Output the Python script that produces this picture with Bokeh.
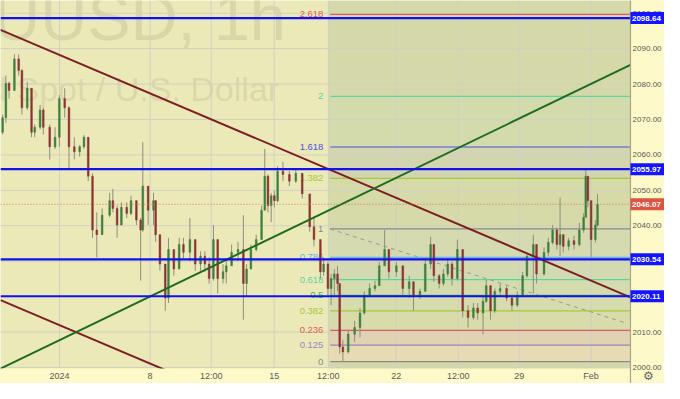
from bokeh.plotting import figure
from bokeh.models import ColumnDataSource
from bokeh.embed import file_html
from bokeh.resources import INLINE
from bokeh.core.properties import value

# ---------------- data ----------------
bar_t = [2, 5, 8, 13, 17, 20, 25, 29, 32, 37, 40, 46, 51, 55, 60, 64, 69, 74, 78, 82,
         86, 90, 95, 102, 105, 109, 113, 118, 122, 127, 131, 133, 138, 143, 145, 149, 154, 157, 162, 167,
         171, 177, 182, 187, 191, 195, 199, 203, 208, 211, 216, 222, 227, 230, 234, 239, 244, 247, 250, 253,
         256, 259, 264, 270, 276, 282, 289, 293, 299, 302, 306, 309, 312, 315, 317, 320, 325, 331, 336, 340,
         345, 350, 354, 359, 363, 370, 376, 382, 386, 392, 397, 402, 405, 410, 414, 418, 422, 427, 432, 437,
         442, 446, 451, 454, 458, 462, 467, 473, 478, 483, 488, 492, 498, 501, 508, 512, 516, 520, 523, 526,
         531, 536, 541, 545, 547, 549, 552, 556, 558]
open_ = [2066.4, 2070.5, 2080.2, 2078.2, 2087.1, 2083.8, 2073.3, 2078.8, 2066.4, 2067.8, 2072.7, 2067.8, 2062.3, 2065.0, 2075.9, 2073.3, 2062.3, 2060.9, 2062.3, 2065.0,
         2054.0, 2038.8, 2037.5, 2043.0, 2047.1, 2044.9, 2040.2, 2045.2, 2043.5, 2047.1, 2041.6, 2038.8, 2051.2, 2044.4, 2047.1, 2037.5, 2029.2, 2019.6, 2033.3, 2027.8,
         2034.7, 2032.5, 2036.1, 2029.2, 2031.4, 2029.2, 2025.1, 2036.1, 2025.1, 2027.0, 2028.7, 2032.5, 2033.3, 2023.7, 2027.8, 2033.3, 2036.1, 2044.4, 2054.0, 2045.7,
         2048.5, 2047.1, 2055.4, 2054.5, 2052.6, 2054.8, 2049.0, 2039.7, 2036.1, 2027.0, 2029.2, 2022.3, 2025.1, 2026.4, 2023.7, 2005.8, 2004.4, 2009.4, 2011.3, 2015.4,
         2020.4, 2022.3, 2023.1, 2028.7, 2033.3, 2027.0, 2028.7, 2022.3, 2024.2, 2020.4, 2021.5, 2029.2, 2034.7, 2025.9, 2023.7, 2026.4, 2029.2, 2025.1, 2033.3, 2016.0,
         2014.1, 2016.8, 2015.4, 2018.7, 2023.1, 2016.0, 2021.5, 2022.3, 2019.6, 2017.6, 2020.4, 2025.9, 2031.4, 2034.7, 2026.4, 2032.5, 2035.3, 2038.8, 2034.7, 2037.5,
         2034.2, 2035.8, 2034.7, 2038.8, 2042.4, 2054.0, 2047.1, 2036.1, 2040.2]
high = [2071.4, 2082.4, 2080.7, 2088.4, 2088.4, 2084.3, 2080.7, 2078.8, 2068.6, 2074.1, 2073.3, 2068.6, 2067.8, 2076.9, 2078.8, 2073.8, 2065.0, 2062.8, 2065.6, 2065.0,
        2054.8, 2043.8, 2044.9, 2049.3, 2050.4, 2045.7, 2046.6, 2046.6, 2048.5, 2047.1, 2042.2, 2063.6, 2051.2, 2049.3, 2047.1, 2037.5, 2029.2, 2036.6, 2033.3, 2036.6,
        2036.6, 2042.2, 2036.1, 2032.8, 2032.8, 2031.1, 2040.2, 2036.1, 2029.2, 2030.6, 2034.7, 2035.5, 2043.0, 2029.2, 2034.7, 2037.5, 2045.7, 2061.7, 2054.5, 2049.3,
        2049.9, 2056.8, 2058.1, 2055.4, 2055.9, 2054.8, 2049.0, 2042.2, 2036.1, 2031.1, 2029.8, 2026.4, 2027.8, 2028.7, 2023.7, 2007.7, 2010.5, 2013.2, 2016.8, 2021.5,
        2023.7, 2024.5, 2029.8, 2038.8, 2033.3, 2029.8, 2028.7, 2025.9, 2024.2, 2022.3, 2030.6, 2036.9, 2034.7, 2026.4, 2027.8, 2030.6, 2029.8, 2036.1, 2033.3, 2017.6,
        2018.2, 2018.2, 2020.4, 2024.8, 2023.1, 2022.3, 2023.7, 2022.9, 2020.1, 2021.5, 2027.0, 2032.5, 2037.5, 2034.7, 2033.9, 2036.6, 2040.2, 2039.4, 2047.9, 2037.5,
        2036.6, 2037.2, 2040.8, 2043.5, 2055.9, 2054.0, 2047.1, 2041.6, 2049.0]
low = [2065.8, 2069.1, 2075.9, 2078.2, 2082.4, 2071.4, 2072.7, 2065.0, 2065.0, 2067.2, 2065.8, 2058.7, 2061.7, 2062.3, 2070.5, 2055.9, 2058.7, 2059.5, 2061.7, 2052.6,
       2036.6, 2031.1, 2037.5, 2042.4, 2043.8, 2036.6, 2040.2, 2042.2, 2043.0, 2040.2, 2024.5, 2038.3, 2040.2, 2040.2, 2035.5, 2027.3, 2016.0, 2018.2, 2025.9, 2027.8,
       2030.6, 2030.0, 2027.3, 2027.3, 2027.0, 2023.7, 2024.5, 2020.9, 2023.7, 2023.7, 2028.7, 2030.0, 2013.5, 2020.1, 2027.8, 2032.8, 2036.1, 2044.4, 2043.8, 2041.0,
       2045.2, 2046.6, 2052.6, 2051.2, 2052.1, 2047.7, 2038.3, 2034.2, 2025.1, 2025.9, 2020.4, 2017.6, 2020.4, 2021.5, 2003.9, 2001.7, 2003.9, 2007.2, 2008.5, 2014.9,
       2020.4, 2021.5, 2023.1, 2028.7, 2025.1, 2025.6, 2020.4, 2019.6, 2016.0, 2019.3, 2021.5, 2027.8, 2024.2, 2022.3, 2023.1, 2025.6, 2023.1, 2024.5, 2014.1, 2011.3,
       2013.5, 2013.5, 2009.4, 2018.2, 2013.5, 2015.4, 2020.1, 2018.7, 2016.0, 2017.1, 2020.1, 2025.3, 2020.9, 2023.7, 2025.9, 2031.4, 2034.7, 2033.3, 2031.4, 2032.5,
       2033.1, 2033.3, 2034.2, 2038.0, 2042.4, 2045.2, 2031.1, 2035.3, 2039.7]
close = [2070.5, 2080.2, 2078.2, 2087.1, 2083.8, 2073.3, 2078.8, 2066.4, 2067.8, 2072.7, 2067.8, 2062.3, 2065.0, 2075.9, 2073.3, 2062.3, 2060.9, 2062.3, 2065.0, 2054.0,
         2038.8, 2037.5, 2043.0, 2047.1, 2044.9, 2040.2, 2045.2, 2043.5, 2047.1, 2041.6, 2038.8, 2051.2, 2044.4, 2047.1, 2037.5, 2029.2, 2019.6, 2033.3, 2027.8, 2034.7,
         2032.5, 2036.1, 2029.2, 2031.4, 2029.2, 2025.1, 2036.1, 2025.1, 2027.0, 2028.7, 2032.5, 2033.3, 2023.7, 2027.8, 2033.3, 2036.1, 2044.4, 2054.0, 2045.7, 2048.5,
         2047.1, 2055.4, 2054.5, 2052.6, 2054.8, 2049.0, 2039.7, 2036.1, 2027.0, 2029.2, 2022.3, 2025.1, 2026.4, 2023.7, 2005.8, 2004.4, 2009.4, 2011.3, 2015.4, 2020.4,
         2022.3, 2023.1, 2028.7, 2033.3, 2027.0, 2028.7, 2022.3, 2024.2, 2020.4, 2021.5, 2029.2, 2034.7, 2025.9, 2023.7, 2026.4, 2029.2, 2025.1, 2033.3, 2016.0, 2014.1,
         2016.8, 2015.4, 2018.7, 2023.1, 2016.0, 2021.5, 2022.3, 2019.6, 2017.6, 2020.4, 2025.9, 2031.4, 2034.7, 2026.4, 2032.5, 2035.3, 2038.8, 2034.7, 2037.5, 2034.2,
         2035.8, 2034.7, 2038.8, 2042.4, 2054.0, 2047.1, 2036.1, 2040.2, 2046.07]

x_ticks = [55.2, 139.8, 196.9, 255.8, 306.4, 369.8, 427.8, 484.8, 552.0]
x_tick_labels = ["2024", "8", "12:00", "15", "12:00", "22", "12:00", "29", "Feb"]
price_ticks = [2000, 2010, 2020, 2030, 2040, 2050, 2060, 2070, 2080, 2090, 2100]

key_levels = [2098.64, 2055.97, 2030.54, 2020.11]
last_price = 2046.07

fib_ratios = [0, 0.125, 0.236, 0.382, 0.5, 0.618, 0.786, 1, 1.382, 1.618, 2, 2.618]
fib_labels = ["0", "0.125", "0.236", "0.382", "0.5", "0.618", "0.786", "1", "1.382", "1.618", "2", "2.618"]
fib_colors = ["#8a8a8a", "#9a84c4", "#e05a5a", "#a6c83c", "#3cbf4a", "#5ed39c", "#64b0f0",
              "#8a8a8a", "#a6c83c", "#4a52e6", "#5ed3a4", "#e05a5a"]
fib_low = 2001.65
fib_high = 2039.1
fib_start_t = 306.4
fib_line_t = 308.2

trend_down_t = [0, 588.8]
trend_down_p = [2095.3, 2019.8]
trend_down2_t = [0, 200]
trend_down2_p = [2019.0, 1993.4]
trend_up_t = [0, 588.8]
trend_up_p = [1999.7, 2085.4]
dashed_t = [308, 586]
dashed_p = [2039.1, 2012.4]

watermark_main = "XAUUSD, 1h"
watermark_sub = "Gold Spot / U.S. Dollar"

# ---------------- geometry (data units) ----------------
T0, T1 = 0.0, 620.6             # visible time span (frame)
T_AXIS = 588.8                  # start of price scale column
P0, P1 = 1995.48, 2103.59       # visible price span (frame)
P_AXIS = 1999.72                # top of time scale row
TAG_H = 3.4

p = figure(width=664, height=383, x_range=(T0, T1), y_range=(P0, P1),
           output_backend="svg", toolbar_location=None,
           x_axis_location=None, y_axis_location=None,
           min_border_left=0, min_border_top=0, min_border_right=0, min_border_bottom=0)
p.background_fill_color = "#ece9b9"
p.border_fill_color = "#fdf9c8"
p.outline_line_color = None
p.grid.visible = False

# watermark
p.text(x=[266.8], y=[2098.9], text=[watermark_main], text_align="right", text_baseline="middle",
       text_font=value("Liberation Sans"), text_font_size="65px", text_color="#7f7d60", text_alpha=0.17)
p.text(x=[260.4], y=[2078.5], text=[watermark_sub], text_align="right", text_baseline="middle",
       text_font=value("Liberation Sans"), text_font_size="34px", text_color="#7f7d60", text_alpha=0.17)

# fib zone background
fib_prices = [fib_low + r * (fib_high - fib_low) for r in fib_ratios]
p.quad(left=[fib_start_t], right=[T_AXIS], bottom=[P0], top=[P1], fill_color="#d5d9a9", line_color=None)
band_colors = ["#e7dbb4", "#e1d3b1", "#d9dbab", "#d6dcac", "#d4dcae", "#d3dab2", "#d5dab0",
               "#d5daa8", "#d2d5b0", "#d3dbad", "#d5d9a9"]
p.quad(left=[fib_start_t] * 11, right=[T_AXIS] * 11, bottom=fib_prices[:-1], top=fib_prices[1:],
       fill_color=band_colors, line_color=None)

# grid
p.segment(x0=x_ticks, y0=[P_AXIS] * len(x_ticks), x1=x_ticks, y1=[P1] * len(x_ticks),
          line_color="#cfd1c2", line_width=1)
p.segment(x0=[T0] * len(price_ticks), y0=price_ticks, x1=[T_AXIS] * len(price_ticks), y1=price_ticks,
          line_color="#cfd1c2", line_width=1)

# fib levels
for fp, fc in zip(fib_prices, fib_colors):
    p.segment(x0=[fib_line_t], y0=[fp], x1=[T_AXIS], y1=[fp], line_color=fc, line_width=1.2)
p.text(x=[301.8] * len(fib_prices), y=fib_prices, text=fib_labels, text_align="right", text_baseline="middle",
       text_color=fib_colors, text_font=value("Liberation Sans"), text_font_size="9.5px")

# dashed grey trend
p.line(dashed_t, dashed_p, line_color="#9a9a90", line_width=1, line_dash="4 4")

# candles
src = ColumnDataSource(dict(
    t=bar_t, o=open_, h=high, l=low, c=close,
    top=[max(a, b) for a, b in zip(open_, close)],
    bot=[min(a, b) for a, b in zip(open_, close)],
    col=["#3f7f3c" if c >= o else "#8c3434" for o, c in zip(open_, close)],
))
p.segment(x0="t", y0="l", x1="t", y1="h", source=src, line_color="#8d8d80", line_width=1)
p.vbar(x="t", width=1.6, top="top", bottom="bot", source=src, fill_color="col", line_color="col", line_width=0.5)

# trend lines
p.line(trend_down_t, trend_down_p, line_color="#7d1f22", line_width=2)
p.line(trend_down2_t, trend_down2_p, line_color="#7d1f22", line_width=2)
p.line(trend_up_t, trend_up_p, line_color="#1f6b1f", line_width=2)

# horizontal key levels and last price
for lv in key_levels:
    p.segment(x0=[T0], y0=[lv], x1=[T_AXIS], y1=[lv], line_color="#1010f0", line_width=2.2)
p.segment(x0=[T0], y0=[last_price], x1=[T_AXIS], y1=[last_price], line_color="#e07050", line_width=1, line_dash="1 2")

# ---------------- scales ----------------
p.quad(left=[T_AXIS], right=[T1 + 2], bottom=[P0 - 2], top=[P1 + 2], fill_color="#fdf9c8", line_color=None)
p.quad(left=[T0 - 2], right=[T_AXIS], bottom=[P0 - 2], top=[P_AXIS], fill_color="#fdf9c8", line_color=None)
p.segment(x0=[T_AXIS], y0=[P0 - 2], x1=[T_AXIS], y1=[P1 + 2], line_color="#a9a68a", line_width=1.2)

# price scale labels
p.text(x=[590.8] * len(price_ticks), y=price_ticks, text=[f"{v:.2f}" for v in price_ticks],
       text_align="left", text_baseline="middle", text_color="#5a5a5a",
       text_font=value("Liberation Sans"), text_font_size="8px")

# time scale labels
p.text(x=x_ticks, y=[1997.5] * len(x_ticks), text=x_tick_labels, text_align="center", text_baseline="middle",
       text_color="#5a5a5a", text_font=value("Liberation Sans"), text_font_size="9px")

# price tags
tag_levels = key_levels + [last_price]
tag_colors = ["#1414ff"] * len(key_levels) + ["#de5442"]
p.quad(left=[T_AXIS] * len(tag_levels), right=[T1 + 2] * len(tag_levels),
       bottom=[v - TAG_H / 2 for v in tag_levels], top=[v + TAG_H / 2 for v in tag_levels],
       fill_color=tag_colors, line_color=None)
p.text(x=[590.2] * len(tag_levels), y=tag_levels, text=[f"{v:.2f}" for v in tag_levels],
       text_align="left", text_baseline="middle", text_color="white", text_font_style="bold",
       text_font=value("Liberation Sans"), text_font_size="8px")

# settings icon
p.text(x=[605.6], y=[1997.5], text=["⚙"], text_align="center", text_baseline="middle",
       text_color="#666666", text_font=value("DejaVu Sans"), text_font_size="12px")

open("out.html", "w").write(file_html(p, INLINE))
